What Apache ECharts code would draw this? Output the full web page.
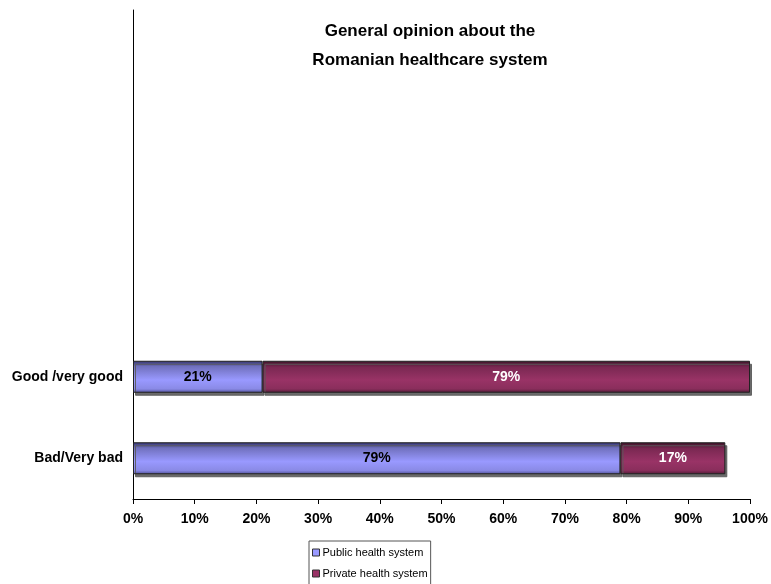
<!DOCTYPE html>
<html>
<head>
<meta charset="utf-8">
<script src="https://cdn.jsdelivr.net/npm/echarts@6/dist/echarts.min.js"></script>
<style>
html,body{margin:0;padding:0;background:#fff;}
#chart{width:771px;height:584px;}
</style>
</head>
<body>
<div id="chart"></div>
<script>
// Data
var categories = ['Bad/Very bad', 'Good /very good'];
var publicValues = [79, 21];
var privateValues = [17, 79];
var seriesNames = ['Public health system', 'Private health system'];
var xTicks = [0, 10, 20, 30, 40, 50, 60, 70, 80, 90, 100];
var titleLines = ['General opinion about the', 'Romanian healthcare system'];

// Pad with empty categories (original chart leaves empty space above)
var emptySlots = 4;
var yCats = categories.slice();
var pubData = publicValues.slice();
var privData = privateValues.slice();
for (var i = 0; i < emptySlots; i++) {
  yCats.push(' '.repeat(i + 1));
  pubData.push('-');
  privData.push('-');
}

var chart = echarts.init(document.getElementById('chart'), null, {renderer: 'canvas'});

function grad(stops) {
  return new echarts.graphic.LinearGradient(0, 0, 0, 1, stops);
}
var blueGrad = grad([
  {offset: 0, color: '#30306a'},
  {offset: 0.18, color: '#7070bd'},
  {offset: 0.6, color: '#9999ff'},
  {offset: 0.88, color: '#8a8ae6'},
  {offset: 1, color: '#50509a'}
]);
var redGrad = grad([
  {offset: 0, color: '#3a1226'},
  {offset: 0.2, color: '#7a2852'},
  {offset: 0.6, color: '#993366'},
  {offset: 0.88, color: '#8a2e5c'},
  {offset: 1, color: '#4f1a35'}
]);

var option = {
  animation: false,
  backgroundColor: '#ffffff',
  textStyle: {fontFamily: 'Liberation Sans, Arial, sans-serif'},
  title: {
    text: titleLines.join('\n'),
    left: 425,
    textAlign: 'center',
    top: 12,
    textStyle: {fontSize: 17, fontWeight: 'bold', color: '#000', lineHeight: 29, fontFamily: 'Liberation Sans, Arial, sans-serif'}
  },
  legend: {
    data: [
      {name: seriesNames[0], itemStyle: {color: '#9999ff', borderColor: '#333', borderWidth: 1}},
      {name: seriesNames[1], itemStyle: {color: '#993366', borderColor: '#333', borderWidth: 1}}
    ],
    orient: 'vertical',
    left: 309,
    top: 541,
    height: 55,
    itemWidth: 7,
    itemHeight: 7,
    itemGap: 10,
    padding: [6, 3, 10, 3],
    borderColor: '#555',
    borderWidth: 1,
    backgroundColor: '#fff',
    icon: 'rect',
    textStyle: {fontSize: 11, color: '#000', padding: [0, 0, 0, -2]}
  },
  grid: {left: 133, right: 21, top: 10, bottom: 85, containLabel: false},
  xAxis: {
    type: 'value',
    min: 0,
    max: 100,
    interval: 10,
    axisLine: {show: true, lineStyle: {color: '#000', width: 1}},
    axisTick: {show: true, length: 5, lineStyle: {color: '#000'}},
    splitLine: {show: false},
    axisLabel: {
      formatter: function (v) { return xTicks.indexOf(v) >= 0 ? v + '%' : ''; },
      fontSize: 14, fontWeight: 'bold', color: '#000', margin: 13
    }
  },
  yAxis: {
    type: 'category',
    data: yCats,
    axisLine: {show: true, lineStyle: {color: '#000', width: 1}},
    axisTick: {show: false},
    splitLine: {show: false},
    axisLabel: {fontSize: 14, fontWeight: 'bold', color: '#000', margin: 10}
  },
  series: [
    {
      name: seriesNames[0],
      type: 'bar',
      stack: 'total',
      barWidth: 32,
      data: pubData,
      itemStyle: {
        color: blueGrad, borderColor: '#222', borderWidth: 1,
        shadowColor: 'rgba(90,90,90,0.9)', shadowOffsetX: 2, shadowOffsetY: 3, shadowBlur: 0
      },
      label: {show: true, position: 'inside', formatter: '{c}%', fontSize: 14, fontWeight: 'bold', color: '#000'}
    },
    {
      name: seriesNames[1],
      type: 'bar',
      stack: 'total',
      barWidth: 32,
      data: privData,
      itemStyle: {
        color: redGrad, borderColor: '#222', borderWidth: 1,
        shadowColor: 'rgba(90,90,90,0.9)', shadowOffsetX: 2, shadowOffsetY: 3, shadowBlur: 0
      },
      label: {show: true, position: 'inside', formatter: '{c}%', fontSize: 14, fontWeight: 'bold', color: '#fff'}
    }
  ]
};
chart.setOption(option);
</script>
</body>
</html>
